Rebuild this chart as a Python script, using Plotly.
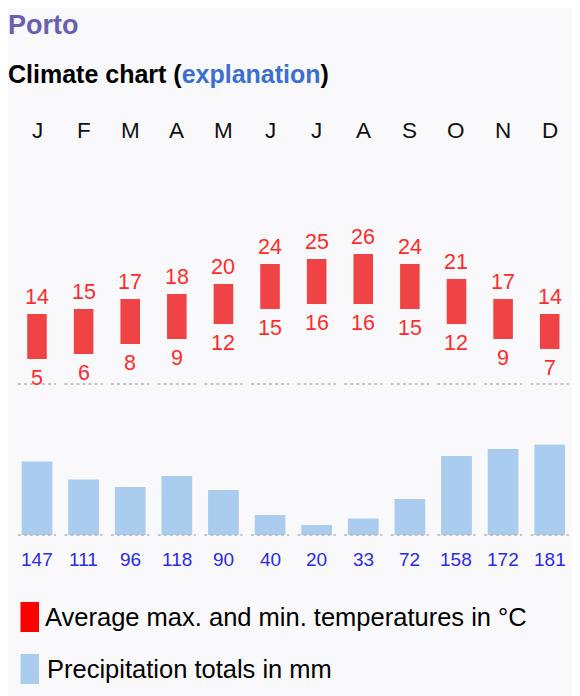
import plotly.graph_objects as go

# Porto climate data
months = ["J", "F", "M", "A", "M", "J", "J", "A", "S", "O", "N", "D"]
temp_max = [14, 15, 17, 18, 20, 24, 25, 26, 24, 21, 17, 14]
temp_min = [5, 6, 8, 9, 12, 15, 16, 16, 15, 12, 9, 7]
precip = [147, 111, 96, 118, 90, 40, 20, 33, 72, 158, 172, 181]

# page body keeps its default 8px margin, so the figure is drawn 8px in
OFF = 8
W, H = 580 - OFF, 696 - OFF
BG = "#f9f9fb"
FONT = "Arial, Liberation Sans, sans-serif"


def py(px):
    # pixel row of the page -> paper y
    return 1 - (px - OFF) / H


def pxx(px):
    # pixel column of the page -> paper x
    return (px - OFF) / W


idx = list(range(len(months)))

fig = go.Figure()

fig.add_trace(go.Bar(
    x=idx, y=[hi - lo for hi, lo in zip(temp_max, temp_min)], base=temp_min,
    width=0.42, marker=dict(color="#ef4346", line=dict(width=0)),
    xaxis="x", yaxis="y", hoverinfo="skip",
))
fig.add_trace(go.Bar(
    x=idx, y=precip, width=0.66,
    marker=dict(color="#aaccee", line=dict(width=0)),
    xaxis="x2", yaxis="y2", hoverinfo="skip",
))

ann = []
# month letters
for i, m in enumerate(months):
    ann.append(dict(x=i, y=py(131), xref="x", yref="paper", text=m,
                    showarrow=False, yanchor="middle",
                    font=dict(size=22.5, color="#111111", family=FONT)))
# temperature labels
for i, (hi, lo) in enumerate(zip(temp_max, temp_min)):
    ann.append(dict(x=i, y=hi, xref="x", yref="y", text=str(hi),
                    showarrow=False, yanchor="middle", yshift=17,
                    font=dict(size=21.5, color="#ff2a2a", family=FONT)))
    ann.append(dict(x=i, y=lo, xref="x", yref="y", text=str(lo),
                    showarrow=False, yanchor="middle", yshift=-19,
                    font=dict(size=21.5, color="#ff2a2a", family=FONT)))
# precipitation labels
for i, p in enumerate(precip):
    ann.append(dict(x=i, y=py(559), xref="x2", yref="paper", text=str(p),
                    showarrow=False, yanchor="middle",
                    font=dict(size=19, color="#2a2ae8", family=FONT)))

# headings
ann.append(dict(x=pxx(6), y=py(25), xref="paper", yref="paper",
                text="<b>Porto</b>", showarrow=False, xanchor="left",
                yanchor="middle", font=dict(size=27, color="#6a5fb3", family=FONT)))
ann.append(dict(x=pxx(6), y=py(74), xref="paper", yref="paper",
                text="<b>Climate chart (<span style='color:#3b6fd4'>explanation</span>)</b>",
                showarrow=False, xanchor="left", yanchor="middle",
                font=dict(size=25, color="#000000", family=FONT)))

# legend
ann.append(dict(x=pxx(43), y=py(617), xref="paper", yref="paper",
                text="Average max. and min. temperatures in °C", showarrow=False,
                xanchor="left", yanchor="middle",
                font=dict(size=25.5, color="#000000", family=FONT)))
ann.append(dict(x=pxx(45), y=py(669), xref="paper", yref="paper",
                text="Precipitation totals in mm", showarrow=False,
                xanchor="left", yanchor="middle",
                font=dict(size=25.5, color="#000000", family=FONT)))

shapes = []
# dotted baselines per month
for i in idx:
    shapes.append(dict(type="line", xref="x", yref="y", x0=i - 0.41, x1=i + 0.41,
                       y0=0, y1=0, line=dict(color="#b4b4b4", width=1.5, dash="dot")))
    shapes.append(dict(type="line", xref="x2", yref="y2", x0=i - 0.41, x1=i + 0.41,
                       y0=0, y1=0, line=dict(color="#b4b4b4", width=1.5, dash="dot")))
# legend swatches
shapes.append(dict(type="rect", xref="paper", yref="paper",
                   x0=pxx(20.5), x1=pxx(39), y0=py(632), y1=py(602),
                   fillcolor="#ff0000", line=dict(width=0)))
shapes.append(dict(type="rect", xref="paper", yref="paper",
                   x0=pxx(20.5), x1=pxx(39), y0=py(684), y1=py(654),
                   fillcolor="#aaccee", line=dict(width=0)))

xdom = [pxx(13.7), pxx(573)]
axis_off = dict(visible=False, showgrid=False, zeroline=False, fixedrange=True)

fig.update_layout(
    width=W, height=H,
    margin=dict(l=0, r=0, t=0, b=0),
    paper_bgcolor=BG, plot_bgcolor=BG,
    showlegend=False, barmode="overlay",
    xaxis=dict(domain=xdom, range=[-0.5, 11.5], anchor="y", **axis_off),
    xaxis2=dict(domain=xdom, range=[-0.5, 11.5], anchor="y2", **axis_off),
    yaxis=dict(domain=[py(394), py(234)], range=[-2, 30], anchor="x", **axis_off),
    yaxis2=dict(domain=[py(545), py(440)], range=[-20, 190], anchor="x2", **axis_off),
    annotations=ann, shapes=shapes,
)

fig.write_html("out.html")
